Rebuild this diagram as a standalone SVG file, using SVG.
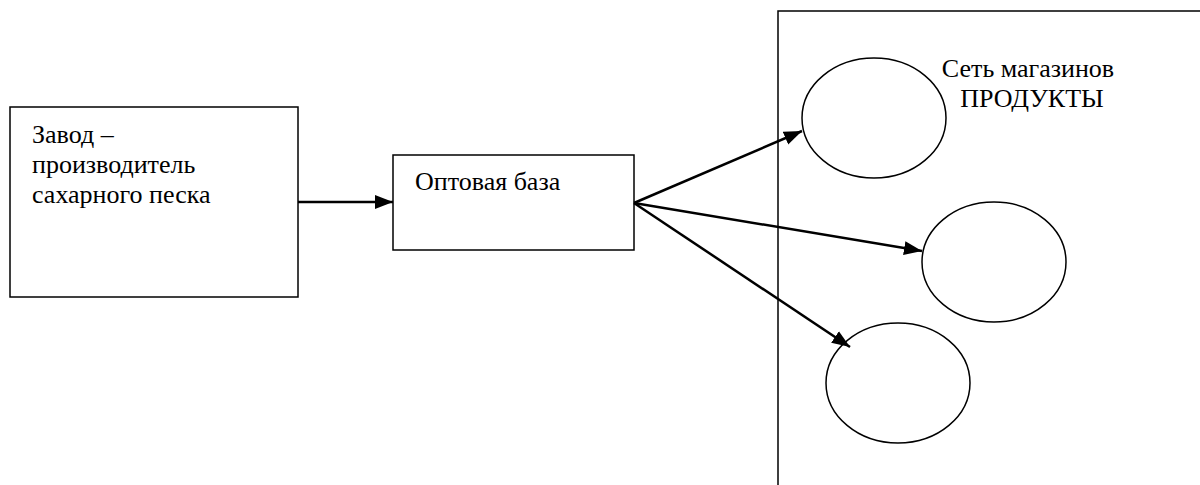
<svg xmlns="http://www.w3.org/2000/svg" width="1200" height="485" viewBox="0 0 1200 485">
<style>
.box{fill:#fff;stroke:#000;stroke-width:1.5}
.ell{fill:#fff;stroke:#000;stroke-width:1.5}
.lbl{font-family:'Liberation Serif','Times New Roman',Tinos,'DejaVu Serif',serif;font-size:26px;fill:#000}
.conn{stroke:#000;stroke-width:2.5;fill:none;marker-end:url(#ah)}
</style>
<defs>
<marker id="ah" markerUnits="userSpaceOnUse" markerWidth="20" markerHeight="16" refX="18" refY="8" orient="auto">
<path d="M0,1 L18,8 L0,15 Z" fill="#000"/>
</marker>
</defs>
<rect width="1200" height="485" fill="#fff"/>
<g id="network">
<rect class="box" x="778" y="11" width="440" height="490"/>
<text class="lbl" x="1028" y="77" text-anchor="middle">Сеть магазинов</text>
<text class="lbl" x="1032" y="107" text-anchor="middle">ПРОДУКТЫ</text>
</g>
<g id="factory">
<rect class="box" x="10" y="107" width="288" height="190"/>
<text class="lbl" x="32" y="143">Завод –</text>
<text class="lbl" x="32" y="173">производитель</text>
<text class="lbl" x="32" y="203">сахарного песка</text>
</g>
<g id="wholesale">
<rect class="box" x="393" y="155" width="241" height="95"/>
<text class="lbl" x="415" y="190">Оптовая база</text>
</g>
<g id="shop1"><ellipse class="ell" cx="874" cy="118" rx="72" ry="60"/></g>
<g id="shop2"><ellipse class="ell" cx="994" cy="262" rx="72" ry="60"/></g>
<g id="shop3"><ellipse class="ell" cx="898" cy="383" rx="72" ry="60"/></g>
<g id="connectors">
<line class="conn" x1="298" y1="202" x2="393" y2="202"/>
<line class="conn" x1="634" y1="203" x2="802" y2="131"/>
<line class="conn" x1="634" y1="203" x2="922" y2="251"/>
<line class="conn" x1="634" y1="203" x2="850" y2="347"/>
</g>
</svg>
